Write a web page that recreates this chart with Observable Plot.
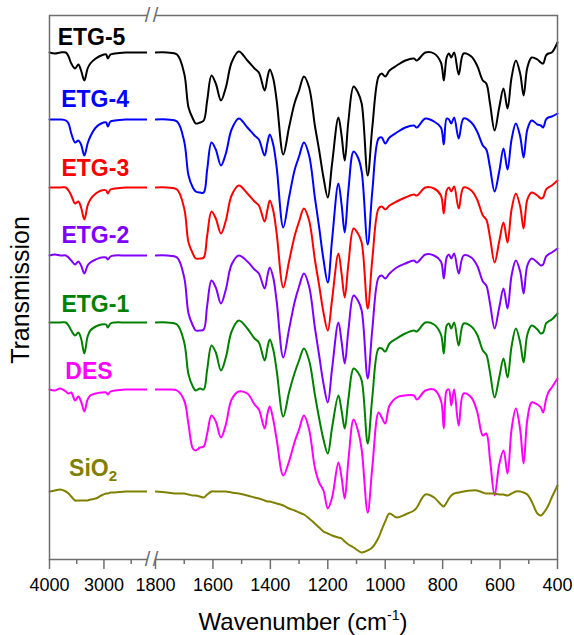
<!DOCTYPE html>
<html>
<head>
<meta charset="utf-8">
<script src="https://cdn.jsdelivr.net/npm/d3@7"></script>
<script src="https://cdn.jsdelivr.net/npm/@observablehq/plot@0.6"></script>
<style>
  html, body { margin: 0; padding: 0; background: #fff; }
  #wrap { position: relative; width: 574px; height: 635px; font-family: "Liberation Sans", Arial, sans-serif; color: #000; }
  #chart { position: absolute; left: 0; top: 0; }
  #ytitle { position: absolute; left: 20px; top: 290px; transform: translate(-50%, -50%) rotate(-90deg); font-size: 25px; white-space: nowrap; line-height: 1; }
  #xtitle { position: absolute; left: 303px; top: 622px; transform: translate(-50%, -50%); font-size: 24px; white-space: nowrap; line-height: 1; }
  #xtitle sup { font-size: 14px; vertical-align: 0; position: relative; top: -10px; }
</style>
</head>
<body>
<div id="wrap">
  <div id="chart"></div>
  <div id="ytitle">Transmission</div>
  <div id="xtitle">Wavenumber (cm<sup>-1</sup>)</div>
</div>
<script>
// ---- categories ----
const seriesNames = ["ETG-5", "ETG-4", "ETG-3", "ETG-2", "ETG-1", "DES", "SiO2"];
const seriesColors = ["#000000", "#0000ff", "#ff0000", "#8000ff", "#008000", "#ff00ff", "#808000"];
// vertical offset of each trace (arbitrary transmission units)
const baselines = [507, 440, 372, 304, 237, 170, 68];

// ---- wavenumber grids (cm-1) ----
const wnLeft = [4000, 3900, 3800, 3700, 3650, 3600, 3530, 3470, 3420, 3360, 3300, 3250, 3150, 3050, 2960, 2930, 2880, 2800, 2600, 2400, 2200];
const wnRight = [1800, 1760, 1725, 1700, 1685, 1670, 1660, 1645, 1632, 1620,
  1605, 1590, 1572, 1555, 1535, 1510, 1480, 1455, 1440, 1420,
  1410, 1402, 1390, 1378, 1355, 1335, 1315, 1300, 1283, 1265,
  1245, 1230, 1215, 1200, 1185, 1163, 1152, 1141, 1128, 1110,
  1095, 1082, 1061, 1045, 1023, 1012, 1000, 985, 960, 930,
  900, 890, 860, 830, 806, 796, 786, 778, 770, 760,
  744, 727, 700, 680, 660, 648, 635, 619, 603, 588,
  574, 560, 545, 530, 518, 505, 490, 470, 458, 450,
  440, 432, 420, 400];

// ---- band depth below each trace's baseline (transmission units) ----
const etg5Left = [0, 1, 0, 0, 4, 11, 16, 12, 18, 28, 16, 11, 6, 3, 2, 6, 2, 1, 0, 0, 0];
const etg4Left = [0, 0, 0, 1, 4, 14, 23, 21, 25, 36, 24, 17, 8, 4, 3, 7, 2, 1, 0, 0, 0];
const etg3Left = [0, 0, 0, 0, 3, 8, 16, 14, 20, 32, 18, 12, 6, 3, 3, 6, 2, 1, 0, 0, 0];
const etg2Left = [0, -1, 0, 0, 2, 5, 9, 6, 10, 18, 10, 7, 4, 2, 2, 4, 1, 0, 0, 0, 0];
const etg1Left = [0, 0, 0, 0, 3, 8, 13, 10, 16, 31, 14, 8, 4, 2, 2, 5, 1, 0, 0, 0, 0];
const desLeft  = [0, 1, -1, 2, 4, 3, 11, 7, 12, 22, 10, 6, 4, 3, 3, 5, 2, 1, 0, 0, 0];
const sio2Left = [0, -1, -2, 0, 2, 5, 9, 9, 9, 9, 9, 8, 7, 4, 2, 2, 1, 1, 0, 0, 0];

const etg5Right = [0, 0, 2, 21, 55, 66, 71, 70, 68, 48,
  23, 31, 48, 35, 10, -1, 8, 16, 20, 38,
  25, 17, 26, 48, 102, 75, 50, 38, 24, 35,
  73, 98, 125, 145, 111, 65, 83, 108, 68, 34,
  40, 51, 123, 75, 24, 21, 24, 18, 13, 8,
  6, 8, 0, 1, 10, 28, 5, 1, 5, 0,
  22, 1, 4, 13, 28, 31, 51, 78, 55, 36,
  56, 25, 8, 21, 43, 15, 5, 7, 10, 11,
  3, 1, 0, -10];
const etg4Right = [0, 0, 2, 22, 56, 68, 72, 73, 73, 50,
  23, 30, 46, 34, 10, -1, 8, 16, 20, 36,
  23, 15, 25, 48, 108, 78, 50, 37, 23, 36,
  78, 108, 140, 163, 120, 64, 85, 113, 70, 32,
  38, 52, 125, 72, 19, 18, 24, 18, 13, 8,
  6, 8, -1, 2, 8, 25, -1, 0, 4, -2,
  19, -1, 3, 12, 26, 30, 48, 72, 52, 29,
  50, 20, 4, 17, 38, 10, 1, 5, 6, 8,
  0, -2, -3, -6];
const etg3Right = [0, 0, 2, 21, 55, 66, 71, 71, 70, 48,
  24, 31, 46, 33, 8, -2, 6, 14, 18, 34,
  22, 13, 23, 46, 100, 74, 48, 34, 21, 33,
  72, 98, 125, 143, 112, 66, 86, 110, 76, 41,
  46, 55, 121, 72, 21, 19, 22, 18, 14, 10,
  7, 8, 0, 1, 8, 26, 3, 0, 4, -1,
  21, 0, 3, 12, 28, 32, 50, 75, 54, 35,
  55, 22, 6, 19, 41, 12, 5, 8, 11, 10,
  2, 0, -2, -7];
const etg2Right = [0, 0, 2, 22, 58, 70, 75, 75, 74, 50,
  25, 32, 48, 34, 9, 0, 6, 14, 18, 33,
  20, 12, 22, 46, 102, 74, 46, 31, 18, 31,
  72, 100, 128, 147, 113, 67, 86, 108, 74, 40,
  45, 55, 123, 74, 22, 20, 23, 18, 12, 8,
  5, 7, -1, 0, 6, 23, 2, -1, 3, -2,
  18, 0, 2, 10, 26, 30, 48, 73, 52, 33,
  53, 20, 5, 16, 38, 10, 3, 7, 10, 9,
  1, -1, -3, -7];
const etg1Right = [0, 0, 2, 20, 52, 64, 68, 66, 67, 47,
  23, 30, 48, 35, 9, -2, 6, 16, 20, 38,
  25, 17, 27, 48, 94, 70, 50, 38, 26, 38,
  72, 96, 117, 131, 105, 73, 88, 106, 76, 46,
  50, 58, 121, 75, 26, 26, 29, 21, 16, 11,
  8, 9, 0, 2, 12, 31, 3, 1, 6, 0,
  23, 1, 4, 12, 28, 32, 50, 75, 55, 36,
  55, 24, 6, 20, 40, 12, 3, 7, 11, 10,
  1, -1, -3, -9];
const desRight = [0, 0, 1, 11, 35, 59, 61, 58, 57, 44,
  26, 32, 48, 35, 10, 2, 4, 15, 20, 39,
  24, 17, 30, 50, 86, 72, 52, 40, 26, 40,
  78, 93, 101, 119, 108, 73, 88, 109, 70, 30,
  41, 60, 123, 78, 23, 28, 34, 16, 8, 6,
  6, 10, 1, 0, 11, 39, 1, 0, 16, 0,
  36, 4, 8, 22, 46, 44, 70, 106, 75, 61,
  84, 40, 19, 40, 74, 30, 13, 15, 18, 23,
  10, 3, -2, -11];
const sio2Right = [0, 1, 2, 2, 3, 4, 4, 5, 6, 3,
  0, 0, 0, 0, 1, 2, 4, 6, 7, 9,
  10, 10, 11, 12, 14, 17, 19, 21, 23, 27,
  32, 36, 40, 42, 44, 46, 47, 50, 53, 56,
  59, 61, 59, 56, 46, 38, 30, 22, 26, 23,
  19, 16, 3, 6, 13, 15, 11, 7, 4, 2,
  1, 0, -1, -1, 1, 2, 2, 2, 3, 3,
  4, 2, 0, 0, 1, 3, 10, 22, 24, 22,
  18, 14, 6, -6];

// ---- axis ticks ----
const majorTicks = [4000, 3000, 1800, 1600, 1400, 1200, 1000, 800, 600, 400];
const minorTicks = [3500, 2500, 1700, 1500, 1300, 1100, 900, 700, 500];

// ---- build table ----
const leftDepths = [etg5Left, etg4Left, etg3Left, etg2Left, etg1Left, desLeft, sio2Left];
const rightDepths = [etg5Right, etg4Right, etg3Right, etg2Right, etg1Right, desRight, sio2Right];
const rows = [];
seriesNames.forEach((name, i) => {
  wnLeft.forEach((w, j) => rows.push({name, seg: "L", wn: w, t: baselines[i] - leftDepths[i][j]}));
  wnRight.forEach((w, j) => rows.push({name, seg: "R", wn: w, t: baselines[i] - rightDepths[i][j]}));
});

// broken x axis: 4000-2200 then 1800-400
const xDomain = [4000, 2200, 1800, 400];
const yDomain = [0, 544];
const labelPlacement = [
  {name: "ETG-5", wn: 3850, t: 522},
  {name: "ETG-4", wn: 3785, t: 460},
  {name: "ETG-3", wn: 3780, t: 391},
  {name: "ETG-2", wn: 3780, t: 324},
  {name: "ETG-1", wn: 3780, t: 255},
  {name: "DES",   wn: 3710, t: 188},
  {name: "SiO2",  wn: 3640, t: 91}
];
const breaks = [];
[xDomain[1], xDomain[2]].forEach(x => yDomain.forEach(y => breaks.push({x, y})));

const axisColor = "#6e6e6e";
const chart = Plot.plot({
  width: 574,
  height: 635,
  marginLeft: 49,
  marginRight: 17,
  marginTop: 15,
  marginBottom: 76,
  style: {fontFamily: "'Liberation Sans', Arial, sans-serif", background: "transparent", color: "#000", overflow: "visible"},
  x: {type: "linear", domain: xDomain, range: [49, 147, 155, 557], label: null},
  y: {type: "linear", domain: yDomain, axis: null},
  color: {domain: seriesNames, range: seriesColors},
  marks: [
    Plot.line(rows, {x: "wn", y: "t", z: d => d.name + d.seg, stroke: "name", strokeWidth: 2, curve: "catmull-rom"}),
    Plot.frame({stroke: axisColor, strokeWidth: 1.5}),
    Plot.rect([0], {x1: xDomain[1], x2: xDomain[2], y1: yDomain[0], y2: yDomain[1], fill: "white", insetTop: -3, insetBottom: -3}),
    Plot.text(breaks, {x: "x", y: "y", text: () => "/", fontSize: 20, fill: axisColor}),
    Plot.axisX({ticks: majorTicks, tickSize: 10, tickPadding: 9, fontSize: 18, stroke: axisColor, strokeWidth: 1.5, tickFormat: d => String(d), label: null}),
    Plot.axisX({ticks: minorTicks, tickSize: 5, text: null, stroke: axisColor, strokeWidth: 1.5, label: null}),
    Plot.text(labelPlacement, {x: "wn", y: "t", text: "name", fill: "name", fontWeight: "bold", fontSize: 23, textAnchor: "start"})
  ]
});
document.getElementById("chart").appendChild(chart);

// subscript for SiO2
d3.select(chart).selectAll("text").filter(function () { return this.textContent === "SiO2"; })
  .each(function () {
    const t = d3.select(this);
    t.text("SiO");
    t.append("tspan").attr("dy", "0.35em").attr("font-size", "15").text("2");
  });
</script>
</body>
</html>
